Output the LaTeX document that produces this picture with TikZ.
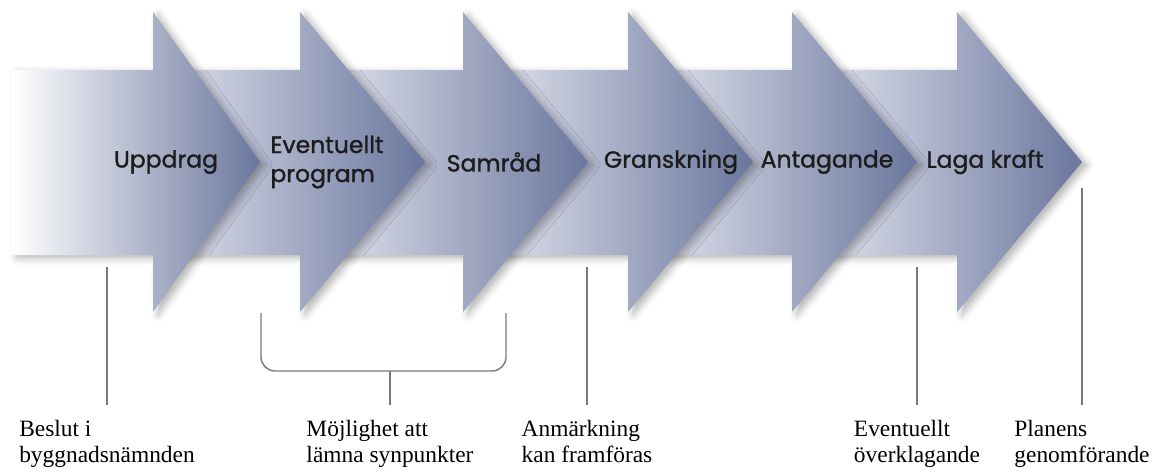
\documentclass[tikz,border=0pt]{standalone}
\usepackage{fontspec}
\setmainfont{Liberation Serif}
\newfontfamily\stagefont{Poppins}[FakeBold=1.2]
\usetikzlibrary{calc,shadows.blur}
\definecolor{steplight}{HTML}{DCDFEA}
\definecolor{stepmid}{HTML}{A7ADCA}
\definecolor{stepdark}{HTML}{6A769D}
\definecolor{leadergray}{HTML}{7A7A7A}
\definecolor{labelink}{HTML}{1C1C1C}

\begin{document}
\begin{tikzpicture}[x=1pt,y=-1pt,
  stagearrow/.style={left color=steplight,middle color=stepmid,right color=stepdark,
    blur shadow={shadow xshift=5pt,shadow yshift=-3pt,shadow blur radius=7pt,shadow opacity=30}},
  steplabel/.style={font=\stagefont\fontsize{23.5}{29}\selectfont,text=labelink,align=left,inner sep=0pt},
  notetext/.style={font=\fontsize{23.4}{26}\selectfont,align=left,anchor=north,inner xsep=0pt,inner ysep=15pt},
  leader/.style={draw=leadergray,line width=1.4pt}]

\useasboundingbox (0,0) rectangle (1160,472);

% Arrows, right one first
\foreach \b in {957,792,628,463,300}
  \path[stagearrow] ({\b-130},70) -- (\b,70) -- (\b,12) -- ({\b+125},162)
    -- (\b,312) -- (\b,255) -- ({\b-130},255) -- cycle;
\path[stagearrow,left color=white] (12,70) -- (153,70) -- (153,12) -- (260,162)
  -- (153,312) -- (153,255) -- (12,255) -- cycle;

% Stage labels
\node[steplabel] (uppdrag) at (166,162) {Uppdrag};
\node[steplabel] (program) at (327,162) {Eventuellt\\program};
\node[steplabel] (samrad) at (494,162) {Samråd};
\node[steplabel] (granskning) at (671,162) {Granskning};
\node[steplabel] (antagande) at (827,162) {Antagande};
\node[steplabel] (lagakraft) at (985,162) {Laga kraft};

% Notes below
\node[notetext] (beslut) at (107,405) {Beslut i\\byggnadsnämnden};
\node[notetext] (synpunkter) at (390,405) {Möjlighet att\\lämna synpunkter};
\node[notetext] (anmarkning) at (587,405) {Anmärkning\\kan framföras};
\node[notetext] (overklagande) at (917,405) {Eventuellt\\överklagande};
\node[notetext] (genomforande) at (1082,405) {Planens\\genomförande};

\coordinate (beslut top) at (107,267);
\coordinate (anmarkning top) at (587,267);
\coordinate (overklagande top) at (917,267);
\coordinate (genomforande top) at (1082,188);
\coordinate (bracket left) at (261,313);
\coordinate (bracket right) at (506,313);
\coordinate (bracket mid) at (390,371);

\draw[leader] (beslut top) -- (beslut.north);
\draw[leader] (anmarkning top) -- (anmarkning.north);
\draw[leader] (overklagande top) -- (overklagande.north);
\draw[leader] (genomforande top) -- (genomforande.north);
\draw[leader,rounded corners=14pt] (bracket left) -- (bracket left |- bracket mid)
  -- (bracket right |- bracket mid) -- (bracket right);
\draw[leader] (bracket mid) -- (synpunkter.north);
\end{tikzpicture}
\end{document}
